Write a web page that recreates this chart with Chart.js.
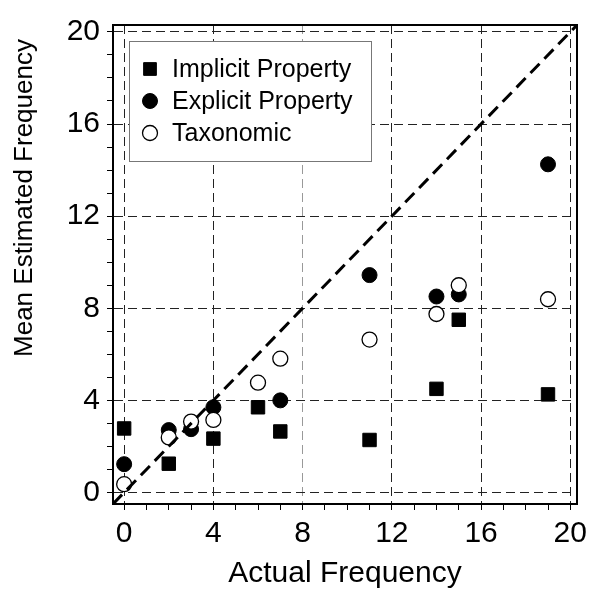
<!DOCTYPE html>
<html>
<head>
<meta charset="utf-8">
<script src="https://cdn.jsdelivr.net/npm/chart.js@4/dist/chart.umd.min.js"></script>
<style>
  body { margin: 0; background: #fff; }
  canvas { display: block; }
</style>
</head>
<body>
<canvas id="chart" width="598" height="592"></canvas>
<script>
// values
const seriesNames = ['Implicit Property', 'Explicit Property', 'Taxonomic'];
const implicitX = [0, 2, 4, 6, 7, 11, 14, 15, 19];
const implicitY = [2.78, 1.25, 2.34, 3.7, 2.65, 2.28, 4.5, 7.5, 4.26];
const explicitX = [0, 2, 3, 4, 7, 11, 14, 15, 19];
const explicitY = [1.23, 2.71, 2.75, 3.7, 4.0, 9.44, 8.51, 8.6, 14.25];
const taxonomicX = [0, 2, 3, 4, 6, 7, 11, 14, 15, 19];
const taxonomicY = [0.36, 2.39, 3.08, 3.15, 4.77, 5.81, 6.64, 7.75, 9.0, 8.39];
const axisRange = [-0.5, 20.3]; // y = x reference line runs corner to corner
const majorTicks = [0, 4, 8, 12, 16, 20];
const xTitle = 'Actual Frequency';
const yTitle = 'Mean Estimated Frequency';

const FONT = '"Liberation Sans", Arial, sans-serif';
const pts = (xs, ys) => xs.map((x, i) => ({ x: x, y: ys[i] }));

const isMajor = v => majorTicks.includes(v);
const gridColor = c => {
  const v = c.tick && c.tick.value;
  if (!isMajor(v)) return 'rgba(0,0,0,0)';
  return v === 8 && c.scale.axis === 'x' ? '#999' : '#222';
};

// frame on top/right, y title, and the boxed legend inside the plot
const extras = {
  id: 'extras',
  afterDatasetsDraw(chart) {
    const { ctx, chartArea: a } = chart;
    ctx.save();
    ctx.strokeStyle = '#000';
    ctx.lineWidth = 2;
    ctx.beginPath();
    ctx.moveTo(a.left, a.top);
    ctx.lineTo(a.right, a.top);
    ctx.lineTo(a.right, a.bottom);
    ctx.stroke();

    // legend
    const lx = a.left + 16, ly = a.top + 16, lw = 242, lh = 120;
    ctx.fillStyle = '#fff';
    ctx.fillRect(lx, ly, lw, lh);
    ctx.strokeStyle = '#777';
    ctx.lineWidth = 1;
    ctx.strokeRect(lx + 0.5, ly + 0.5, lw, lh);
    ctx.font = '25px ' + FONT;
    ctx.textBaseline = 'middle';
    chart.data.datasets.forEach((ds, i) => {
      if (!seriesNames.includes(ds.label)) return;
      const cy = ly + 28 + i * 32;
      ctx.fillStyle = ds.backgroundColor;
      ctx.strokeStyle = ds.borderColor;
      ctx.lineWidth = ds.borderWidth;
      Chart.helpers.drawPoint(ctx, {
        pointStyle: ds.pointStyle, radius: ds.pointStyle === 'rect' ? 9 : 7.5,
        borderWidth: ds.borderWidth, rotation: 0
      }, lx + 21, cy);
      ctx.fillStyle = '#000';
      ctx.fillText(ds.label, lx + 43, cy + 1);
    });

    // y axis title (sits above the plot centre in the reference)
    ctx.translate(25, 198);
    ctx.rotate(-Math.PI / 2);
    ctx.textAlign = 'center';
    ctx.font = '26px ' + FONT;
    ctx.fillStyle = '#000';
    ctx.fillText(yTitle, 0, 0);
    ctx.restore();
  }
};

const tickOpts = {
  stepSize: 1,
  autoSkip: false,
  maxTicksLimit: 40,
  includeBounds: false,
  color: '#000',
  font: { family: FONT, size: 30 },
  callback: v => (isMajor(v) ? String(v) : '')
};

new Chart(document.getElementById('chart'), {
  type: 'scatter',
  data: {
    datasets: [
      {
        label: seriesNames[0], data: pts(implicitX, implicitY), order: 3,
        pointStyle: 'rect', pointRadius: 9.5, backgroundColor: '#000', borderColor: '#000', borderWidth: 1
      },
      {
        label: seriesNames[1], data: pts(explicitX, explicitY), order: 2,
        pointStyle: 'circle', pointRadius: 7.5, backgroundColor: '#000', borderColor: '#000', borderWidth: 1
      },
      {
        label: seriesNames[2], data: pts(taxonomicX, taxonomicY), order: 1,
        pointStyle: 'circle', pointRadius: 7.5, backgroundColor: '#fff', borderColor: '#000', borderWidth: 1.3
      },
      {
        type: 'line', label: 'y = x', data: pts(axisRange, axisRange), order: 0,
        borderColor: '#000', borderWidth: 3, borderDash: [13, 7], pointRadius: 0, fill: false
      }
    ]
  },
  options: {
    responsive: false,
    animation: false,
    devicePixelRatio: 1,
    layout: { padding: { left: 0, top: 16, right: 21, bottom: 0 } },
    plugins: { legend: { display: false }, tooltip: { enabled: false } },
    scales: {
      x: {
        type: 'linear', min: axisRange[0], max: axisRange[1],
        afterFit: s => { s.height = 88; },
        ticks: Object.assign({}, tickOpts, { padding: 6, maxRotation: 0 }),
        grid: { color: gridColor, lineWidth: 1, tickColor: '#000', tickLength: 6, tickWidth: 1 },
        border: { display: true, color: '#000', width: 2, dash: [9, 5] },
        title: { display: true, text: xTitle, color: '#000', font: { family: FONT, size: 30 }, padding: { top: 0, bottom: 0 } }
      },
      y: {
        type: 'linear', min: axisRange[0], max: axisRange[1],
        afterFit: s => { s.width = 113; },
        ticks: Object.assign({}, tickOpts, { padding: 7 }),
        grid: { color: gridColor, lineWidth: 1, tickColor: '#000', tickLength: 6, tickWidth: 1 },
        border: { display: true, color: '#000', width: 2, dash: [9, 5] }
      }
    }
  },
  plugins: [extras]
});
</script>
</body>
</html>
